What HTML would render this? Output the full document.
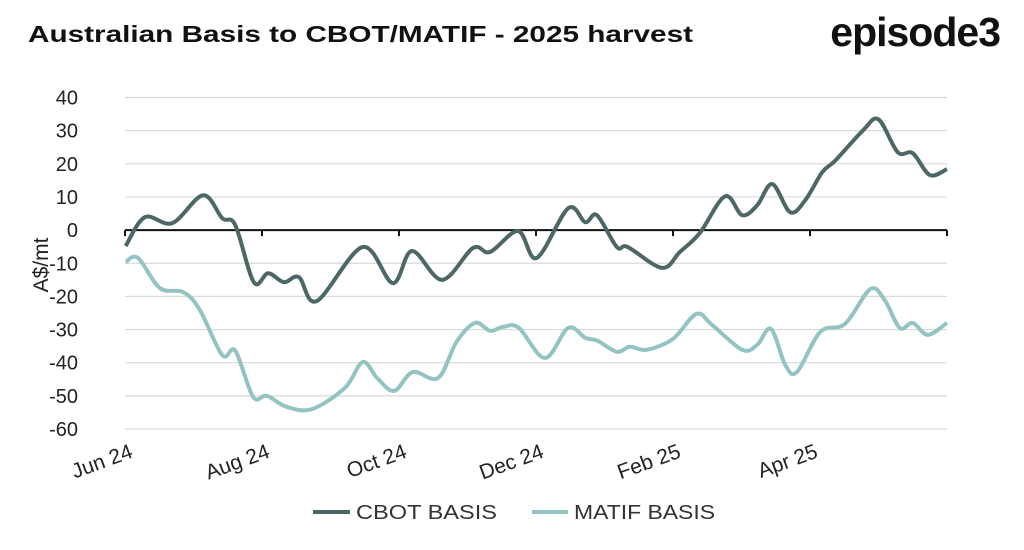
<!DOCTYPE html>
<html><head><meta charset="utf-8"><style>
body{margin:0;background:#fff;width:1024px;height:545px;overflow:hidden;font-family:"Liberation Sans",sans-serif}
</style></head><body>
<svg width="1024" height="545" id="svg">
<text x="28" y="42" font-size="23" font-weight="bold" fill="#111" textLength="665" lengthAdjust="spacingAndGlyphs">Australian Basis to CBOT/MATIF - 2025 harvest</text>
<text x="1000" y="46" text-anchor="end" font-size="41" font-weight="bold" fill="#111" letter-spacing="-1">episode3</text>
<text transform="translate(48,265) rotate(-90)" text-anchor="middle" font-size="21" fill="#222">A$/mt</text>
<g id="grid"></g><g id="lines"></g><g id="xlab"></g>
<g>
<line x1="313" y1="512" x2="350" y2="512" stroke="#4d6666" stroke-width="4"/>
<text x="356" y="519" font-size="20" fill="#333" textLength="141" lengthAdjust="spacingAndGlyphs">CBOT BASIS</text>
<line x1="532" y1="512" x2="568" y2="512" stroke="#93c4c2" stroke-width="4"/>
<text x="574" y="519" font-size="20" fill="#333" textLength="141" lengthAdjust="spacingAndGlyphs">MATIF BASIS</text>
</g>
</svg>
<script>
const yTicks=[40,30,20,10,0,-10,-20,-30,-40,-50,-60];
const xTickLabels=["Jun 24","Aug 24","Oct 24","Dec 24","Feb 25","Apr 25"];
const cbotMonths=[0.01,0.29,0.69,1.14,1.42,1.61,1.88,2.09,2.32,2.54,2.80,3.47,3.91,4.19,4.63,5.08,5.33,5.74,6.01,6.47,6.72,6.89,7.18,7.34,7.84,8.10,8.39,8.76,9.01,9.23,9.45,9.71,9.93,10.18,10.37,10.77,11.0,11.28,11.5,11.75,12.0];
const cbotValues=[-4.8,3.9,2.1,10.5,3.6,1.5,-15.7,-13,-15.7,-14.2,-21.4,-5.1,-16,-6.3,-15,-5.4,-6.6,-0.3,-8.4,6.6,2.4,4.5,-5.1,-5.1,-11.4,-6.6,-0.9,10.2,4.5,7.5,13.9,5.4,9,17.5,21,30,33.4,23.5,23.2,16.6,18.4];
const matifMonths=[0.01,0.19,0.51,0.85,1.09,1.42,1.61,1.87,2.07,2.36,2.73,3.21,3.47,3.68,3.93,4.20,4.57,4.84,5.11,5.33,5.52,5.75,6.13,6.47,6.72,6.9,7.18,7.37,7.62,8.0,8.34,8.57,9.01,9.23,9.43,9.64,9.81,10.15,10.51,10.88,11.09,11.31,11.5,11.72,12.0];
const matifValues=[-9.6,-8.4,-17.5,-18.7,-24,-37.7,-36.4,-50.3,-50,-53.3,-54,-47.6,-39.8,-44.6,-48.5,-42.8,-44.6,-33.7,-28,-30.4,-29.2,-29.5,-38.6,-29.5,-32.5,-33.4,-36.7,-35.2,-36.1,-32.8,-25.3,-28.6,-36.1,-34.6,-29.8,-40.7,-42.8,-30.7,-28.3,-17.8,-21.1,-29.5,-28,-31.6,-28];
const X0=125,X1=947,Y40=97.5,Y60=429;
const xS=m=>X0+(X1-X0)*m/12;
const yS=v=>Y40+(40-v)*(Y60-Y40)/100;
const NS="http://www.w3.org/2000/svg";
function mk(t,a,p){const e=document.createElementNS(NS,t);for(const k in a)e.setAttribute(k,a[k]);p.appendChild(e);return e;}
const grid=document.getElementById('grid');
yTicks.forEach(v=>{
  const l=mk('line',{x1:X0,x2:X1,y1:yS(v),y2:yS(v),stroke:v===0?'#111':'#d9d9d9','stroke-width':v===0?2:1.2},grid);
  
  
  const t=mk('text',{x:78,y:yS(v)+7,'text-anchor':'end','font-size':20,fill:'#222'},grid);
  t.textContent=v;
  
  
});
for(let i=0;i<=6;i++){
  const tk=mk('line',{x1:xS(i*2),x2:xS(i*2),y1:yS(0),y2:yS(0)+6,stroke:'#111','stroke-width':2},grid);
  
  
}
const xl=document.getElementById('xlab');
xTickLabels.forEach((s,i)=>{
  const x=xS(i*2)+9,y=457;
  const t=mk('text',{x:x,y:y,'text-anchor':'end','font-size':21,fill:'#222',transform:`rotate(-20 ${x} ${y})`},xl);
  t.textContent=s;
  
  
});
function path(ms,vs){
  const p=ms.map((m,i)=>[xS(m),yS(vs[i])]);
  let d=`M${p[0][0]},${p[0][1]}`;
  for(let i=0;i<p.length-1;i++){
    const a=p[Math.max(0,i-1)],b=p[i],c=p[i+1],e=p[Math.min(p.length-1,i+2)];
    const c1=[b[0]+(c[0]-a[0])/6,b[1]+(c[1]-a[1])/6],c2=[c[0]-(e[0]-b[0])/6,c[1]-(e[1]-b[1])/6];
    d+=`C${c1[0]},${c1[1]} ${c2[0]},${c2[1]} ${c[0]},${c[1]}`;
  }
  return d;
}
const lg=document.getElementById('lines');
const pm=mk('path',{d:path(matifMonths,matifValues),fill:'none',stroke:'#93c4c2','stroke-width':4,'stroke-linejoin':'round'},lg);


const pc=mk('path',{d:path(cbotMonths,cbotValues),fill:'none',stroke:'#4d6666','stroke-width':4,'stroke-linejoin':'round'},lg);


</script>
</body></html>
